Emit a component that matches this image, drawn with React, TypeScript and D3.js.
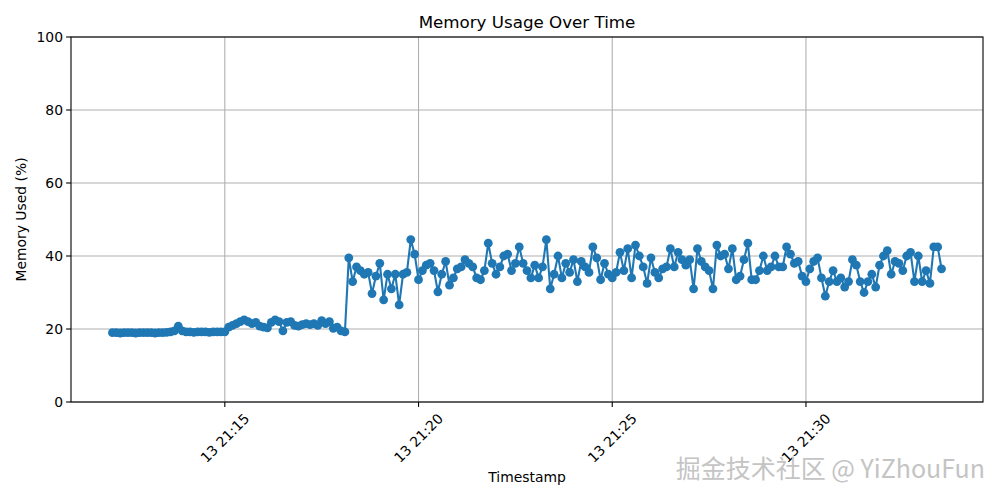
import { useMemo } from 'react';
import * as d3 from 'd3';

// memory samples, one every 6 seconds starting 13th 21:12:06
const START = new Date(2024, 2, 13, 21, 12, 6);
const STEP_SECONDS = 6;

const idleValues = [
  19.0, 19.0, 18.9, 19.0, 19.0, 19.0, 18.9, 19.0, 19.0, 19.0,
  19.0, 18.9, 19.0, 19.0, 19.1, 19.2, 19.5, 20.8, 19.5, 19.2,
  19.2, 19.1, 19.2, 19.2, 19.2, 19.1, 19.2, 19.2, 19.2, 19.2,
];

const warmupValues = [
  20.5, 21.0, 21.5, 22.0, 22.5, 22.0, 21.5, 21.8, 20.8, 20.5,
  20.3, 21.8, 22.5, 22.0, 19.5, 21.8, 22.0, 21.0, 20.8, 21.2,
  21.5, 21.2, 21.5, 21.0, 22.3, 21.5, 22.0, 20.2, 20.5, 19.5,
  19.2,
];

const loadValues = [
  39.5, 33.0, 37.0, 36.0, 35.0, 35.5, 29.7, 34.5, 38.0, 28.0,
  35.0, 31.0, 35.0, 26.6, 35.0, 35.5, 44.5, 40.5, 33.5, 36.0,
  37.5, 38.0, 36.0, 30.2, 35.0, 38.5, 32.0, 34.0, 36.5, 37.0,
  39.0, 38.0, 37.0, 34.0, 33.5, 36.0, 43.5, 38.0, 35.0, 37.0,
  40.0, 40.5, 36.0, 38.0, 42.5, 38.0, 36.0, 34.0, 37.5, 34.0,
  37.0, 44.5, 31.0, 35.0, 40.0, 34.0, 38.0, 35.5, 39.0, 33.0,
  38.5, 37.0, 35.5, 42.5, 39.5, 33.5, 38.0, 35.0, 34.0, 35.5,
  41.0, 36.0, 42.0, 34.0, 43.0, 40.0, 37.0, 32.5, 39.5, 35.5,
  34.0, 36.5, 37.0, 42.0, 37.0, 41.0, 39.0, 37.5, 39.0, 31.0,
  42.0, 38.5, 37.0, 36.0, 31.0, 43.0, 40.0, 40.5, 36.5, 42.0,
  33.5, 34.5, 39.0, 43.5, 33.5, 33.5, 36.0, 40.0, 36.0, 37.0,
  40.0, 37.0, 37.0, 42.5, 40.5, 38.0, 38.5, 34.5, 33.0, 36.5,
  38.5, 39.5, 34.0, 29.0, 33.0, 36.0, 33.0, 34.0, 31.5, 33.0,
  39.0, 37.5, 33.0, 30.0, 33.0, 35.0, 31.5, 37.5, 40.0, 41.5,
  35.0, 38.5, 38.0, 36.0, 40.0, 41.0, 33.0, 40.0, 33.0, 36.0,
  32.5, 42.5, 42.5, 36.5,
];

const yTicks = [0, 20, 40, 60, 80, 100];

const W = 1000;
const H = 500;
const margin = { top: 37, right: 17, bottom: 98, left: 71 };
const BLUE = '#1f77b4';
const FONT = '"DejaVu Sans", sans-serif';

export default function App() {
  const innerW = W - margin.left - margin.right;
  const innerH = H - margin.top - margin.bottom;

  const data = useMemo(() => {
    const values = [...idleValues, ...warmupValues, ...loadValues];
    return values.map((v, i) => ({
      time: new Date(START.getTime() + i * STEP_SECONDS * 1000),
      value: v,
    }));
  }, []);

  const [t0, t1] = d3.extent(data, (d) => d.time) as [Date, Date];
  const pad = (t1.getTime() - t0.getTime()) * 0.05;
  const x = d3
    .scaleTime()
    .domain([new Date(t0.getTime() - pad), new Date(t1.getTime() + pad)])
    .range([0, innerW]);
  const y = d3.scaleLinear().domain([0, 100]).range([innerH, 0]);

  const xTicks = x.ticks(d3.timeMinute.every(5)!);
  const fmt = d3.timeFormat('%d %H:%M');

  const line = d3
    .line<{ time: Date; value: number }>()
    .x((d) => x(d.time))
    .y((d) => y(d.value));

  return (
    <svg
      width={W}
      height={H}
      style={{ position: 'absolute', left: 0, top: 0, background: '#fff' }}
      fontFamily={FONT}
    >
      <text x={margin.left + innerW / 2} y={28} textAnchor="middle" fontSize={16.7}>
        Memory Usage Over Time
      </text>
      <g transform={`translate(${margin.left},${margin.top})`}>
        {/* grid */}
        {xTicks.map((t) => (
          <line key={'gx' + t.getTime()} x1={x(t)} x2={x(t)} y1={0} y2={innerH} stroke="#b0b0b0" strokeWidth={1.1} />
        ))}
        {yTicks.map((v) => (
          <line key={'gy' + v} x1={0} x2={innerW} y1={y(v)} y2={y(v)} stroke="#b0b0b0" strokeWidth={1.1} />
        ))}

        <path d={line(data) ?? ''} fill="none" stroke={BLUE} strokeWidth={2.1} strokeLinejoin="round" />
        {data.map((d, i) => (
          <circle key={i} cx={x(d.time)} cy={y(d.value)} r={4.4} fill={BLUE} />
        ))}

        <rect x={0} y={0} width={innerW} height={innerH} fill="none" stroke="#000" strokeWidth={1.1} />

        {/* y axis */}
        {yTicks.map((v) => (
          <g key={'yt' + v} transform={`translate(0,${y(v)})`}>
            <line x1={-4.9} x2={0} stroke="#000" strokeWidth={1.1} />
            <text x={-8} dy="0.35em" textAnchor="end" fontSize={13.9}>
              {v}
            </text>
          </g>
        ))}

        {/* x axis */}
        {xTicks.map((t) => (
          <g key={'xt' + t.getTime()} transform={`translate(${x(t)},${innerH})`}>
            <line y1={0} y2={4.9} stroke="#000" strokeWidth={1.1} />
            <text
              transform="translate(0,36) rotate(-45)"
              textAnchor="middle"
              dominantBaseline="central"
              fontSize={13.9}
            >
              {fmt(t)}
            </text>
          </g>
        ))}

        <text x={innerW / 2} y={innerH + 80} textAnchor="middle" fontSize={13.9}>
          Timestamp
        </text>
        <text
          transform={`translate(${-45},${innerH / 2}) rotate(-90)`}
          textAnchor="middle"
          fontSize={13.9}
        >
          Memory Used (%)
        </text>
      </g>

      <text
        x={985}
        y={478}
        textAnchor="end"
        fontSize={25}
        fontFamily='"Noto Sans CJK SC", "Noto Sans", sans-serif'
        fill="#c4c4c4"
      >
        掘金技术社区 @ YiZhouFun
      </text>
    </svg>
  );
}
